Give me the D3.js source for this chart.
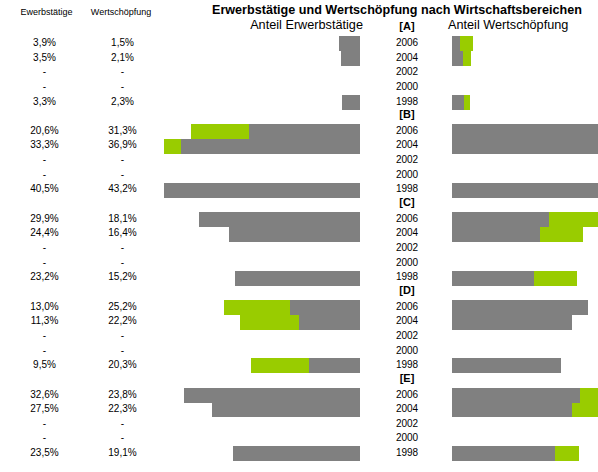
<!DOCTYPE html>
<html>
<head>
<meta charset="utf-8">
<script src="https://cdn.jsdelivr.net/npm/d3@7"></script>
<style>
  body { margin: 0; background: #fff; }
  text { font-family: "Liberation Sans", Arial, sans-serif; fill: #000; }
</style>
</head>
<body>
<div id="chart"></div>
<script>
// Erwerbstätige / Wertschöpfung butterfly chart

var groups = ["[A]", "[B]", "[C]", "[D]", "[E]"];
var years = ["2006", "2004", "2002", "2000", "1998"];
// share of employed persons (%), null = no data
var erw = [
  [3.9, 3.5, null, null, 3.3],
  [20.6, 33.3, null, null, 40.5],
  [29.9, 24.4, null, null, 23.2],
  [13.0, 11.3, null, null, 9.5],
  [32.6, 27.5, null, null, 23.5]
];
// share of value added (%)
var ws = [
  [1.5, 2.1, null, null, 2.3],
  [31.3, 36.9, null, null, 43.2],
  [18.1, 16.4, null, null, 15.2],
  [25.2, 22.2, null, null, 20.3],
  [23.8, 22.3, null, null, 19.1]
];

var svgWidth = 598, svgHeight = 472;
var gray = "#808080", green = "#99cc00";
var leftEnd = 360, rightStart = 452, panelW = 196, yearX = 407;

var de = d3.formatLocale({decimal: ",", thousands: ".", grouping: [3], currency: ["", " €"]});
var fmt = function(v) { return v == null ? "-" : de.format(".1f")(v) + "%"; };

// build row list: one header row + one row per year for each group
var rows = [];
groups.forEach(function(g, gi) {
  rows.push({key: g, head: true, label: g});
  years.forEach(function(y, yi) {
    rows.push({key: g + y, head: false, label: y, erw: erw[gi][yi], ws: ws[gi][yi]});
  });
});
var dataRows = rows.filter(function(d) { return !d.head; });

var yBand = d3.scaleBand().domain(rows.map(function(d) { return d.key; }))
  .range([21.45, 21.45 + rows.length * 14.65]).padding(0);
var xScale = d3.scaleLinear().domain([0, 36.4]).range([0, panelW]).clamp(true);

var svg = d3.select("#chart").append("svg")
  .attr("width", svgWidth)
  .attr("height", svgHeight);

// titles
svg.append("text").attr("x", 212).attr("y", 10).attr("dy", "0.35em")
  .style("font-size", "12.6px").style("font-weight", "bold")
  .text("Erwerbstätige und Wertschöpfung nach Wirtschaftsbereichen");
svg.append("text").attr("x", 363).attr("y", 25).attr("dy", "0.35em")
  .attr("text-anchor", "end").style("font-size", "12.7px")
  .text("Anteil Erwerbstätige");
svg.append("text").attr("x", 448).attr("y", 25).attr("dy", "0.35em")
  .style("font-size", "12.7px")
  .text("Anteil Wertschöpfung");

// column headers
svg.append("text").attr("x", 46.5).attr("y", 12).attr("dy", "0.35em")
  .attr("text-anchor", "middle").style("font-size", "9px").text("Ewerbstätige");
svg.append("text").attr("x", 121).attr("y", 12).attr("dy", "0.35em")
  .attr("text-anchor", "middle").style("font-size", "9px").text("Wertschöpfung");

var cy = function(d) { return yBand(d.key) + yBand.bandwidth() / 2 - 1; };

// left panel: value added behind, employed on top
var bars = svg.append("g").attr("shape-rendering", "crispEdges");
bars.selectAll(".lws").data(dataRows.filter(function(d) { return d.ws != null; }))
  .enter().append("rect")
    .attr("x", function(d) { return leftEnd - xScale(d.ws); })
    .attr("y", function(d) { return yBand(d.key); })
    .attr("width", function(d) { return xScale(d.ws); })
    .attr("height", yBand.bandwidth() + 0.4)
    .attr("fill", green);
bars.selectAll(".lerw").data(dataRows.filter(function(d) { return d.erw != null; }))
  .enter().append("rect")
    .attr("x", function(d) { return leftEnd - xScale(d.erw); })
    .attr("y", function(d) { return yBand(d.key); })
    .attr("width", function(d) { return xScale(d.erw); })
    .attr("height", yBand.bandwidth() + 0.4)
    .attr("fill", gray);

// right panel: employed behind, value added on top
bars.selectAll(".rerw").data(dataRows.filter(function(d) { return d.erw != null; }))
  .enter().append("rect")
    .attr("x", rightStart)
    .attr("y", function(d) { return yBand(d.key); })
    .attr("width", function(d) { return xScale(d.erw); })
    .attr("height", yBand.bandwidth() + 0.4)
    .attr("fill", green);
bars.selectAll(".rws").data(dataRows.filter(function(d) { return d.ws != null; }))
  .enter().append("rect")
    .attr("x", rightStart)
    .attr("y", function(d) { return yBand(d.key); })
    .attr("width", function(d) { return xScale(d.ws); })
    .attr("height", yBand.bandwidth() + 0.4)
    .attr("fill", gray);

// middle labels (group codes + years)
svg.selectAll(".lab").data(rows).enter().append("text")
  .attr("x", yearX).attr("y", function(d) { return d.head ? cy(d) - 1.5 : cy(d); })
  .attr("dy", "0.35em")
  .attr("text-anchor", "middle")
  .style("font-size", function(d) { return d.head ? "11px" : "10px"; })
  .style("font-weight", function(d) { return d.head ? "bold" : "normal"; })
  .text(function(d) { return d.label; });

// value columns
svg.selectAll(".verw").data(dataRows).enter().append("text")
  .attr("x", 44.5).attr("y", cy).attr("dy", "0.35em")
  .attr("text-anchor", "middle").style("font-size", "10px")
  .text(function(d) { return fmt(d.erw); });
svg.selectAll(".vws").data(dataRows).enter().append("text")
  .attr("x", 122.5).attr("y", cy).attr("dy", "0.35em")
  .attr("text-anchor", "middle").style("font-size", "10px")
  .text(function(d) { return fmt(d.ws); });
</script>
</body>
</html>
